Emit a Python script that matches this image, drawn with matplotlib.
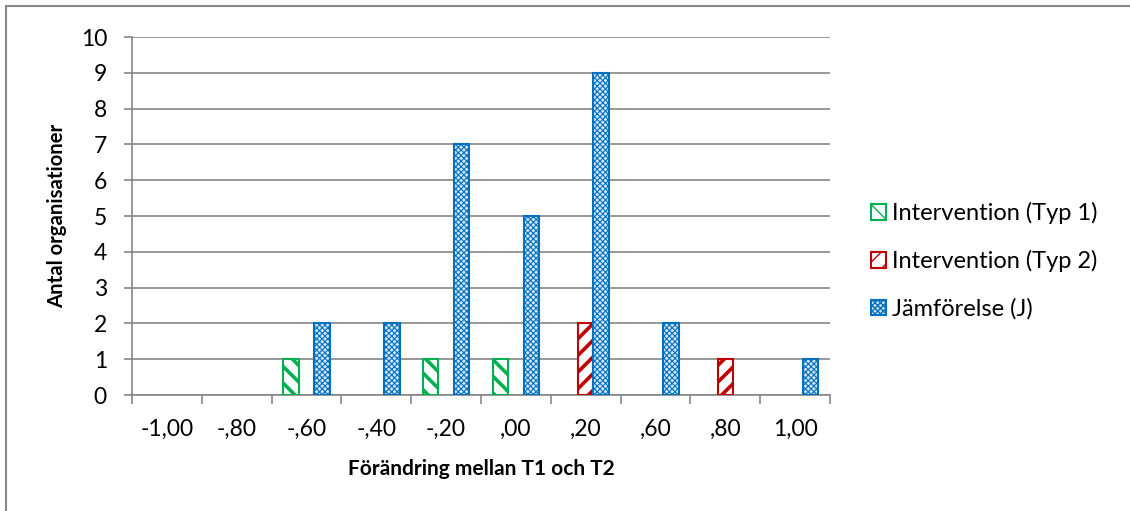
import matplotlib.pyplot as plt
from matplotlib.patches import Rectangle
import numpy as np

plt.rcParams['font.family'] = ['Lato', 'DejaVu Sans']

categories = ['-1,00', '-,80', '-,60', '-,40', '-,20', ',00', ',20', ',60', ',80', '1,00']
typ1 = [0, 0, 1, 0, 1, 1, 0, 0, 0, 0]
typ2 = [0, 0, 0, 0, 0, 0, 2, 0, 1, 0]
jamf = [0, 0, 2, 2, 7, 5, 9, 2, 0, 1]

series = [
    ('Intervention (Typ 1)', typ1, '#00B050', 'white', '\\\\', 2.6),
    ('Intervention (Typ 2)', typ2, '#C00000', 'white', '//', 2.6),
    ('Jämförelse (J)', jamf, '#0070C0', '#D6E6F5', 'xxxxxx', 0.8),
]

fig = plt.figure(figsize=(11.3, 5.11), dpi=100)
ax = fig.add_axes([132/1130, 1-395/511, 698/1130, 358/511])

# outer chart border (runs off right and bottom)
fig.patches.append(Rectangle((6/1130, -0.05), 1.2, 1 - 6.5/511 + 0.05,
                             transform=fig.transFigure, fill=False,
                             edgecolor='#868686', linewidth=1.5))

x = np.arange(len(categories))
w = 1/4.5
fs = 16.5
for i, (name, vals, col, face, hatch, hlw) in enumerate(series):
    vals = np.array(vals)
    keep = vals > 0
    bars = ax.bar(x[keep] + (i-1)*w, vals[keep], width=w, facecolor=face, edgecolor=col,
                  hatch=hatch, linewidth=1.5, label=name, zorder=3)
    for b in bars:
        try:
            b.set_hatch_linewidth(hlw)
        except AttributeError:
            pass

ax.set_xlim(-0.5, len(categories)-0.5)
ax.set_ylim(0, 10)
ax.set_yticks(range(0, 11))
ax.yaxis.grid(True, color='#868686', linewidth=1.2, zorder=0)
ax.set_axisbelow(True)

ax.set_xticks(np.arange(-0.5, len(categories), 1))
ax.set_xticklabels([])
ax.set_xticks(x, minor=True)
ax.set_xticklabels(categories, minor=True, fontsize=fs)
ax.tick_params(axis='x', which='minor', length=0, pad=17)
ax.tick_params(axis='x', which='major', length=6.5, color='#868686', width=1.2)
ax.tick_params(axis='y', length=6, color='#868686', width=1.2, labelsize=fs, pad=12)

for s in ['top', 'right']:
    ax.spines[s].set_visible(False)
for s in ['left', 'bottom']:
    ax.spines[s].set_color('#868686')
    ax.spines[s].set_linewidth(1.2)

ax.set_xlabel('Förändring mellan T1 och T2', fontsize=15, fontweight='bold', labelpad=14)
ax.set_ylabel('Antal organisationer', fontsize=14.6, fontweight='bold', labelpad=10)

leg = ax.legend(loc='center left', bbox_to_anchor=(871/1130, 1-261/511),
                bbox_transform=fig.transFigure, frameon=False,
                fontsize=17, handlelength=0.62, handleheight=0.62,
                handletextpad=0.25, labelspacing=1.1, borderpad=0, borderaxespad=0)

fig.savefig('out.png', dpi=100)
